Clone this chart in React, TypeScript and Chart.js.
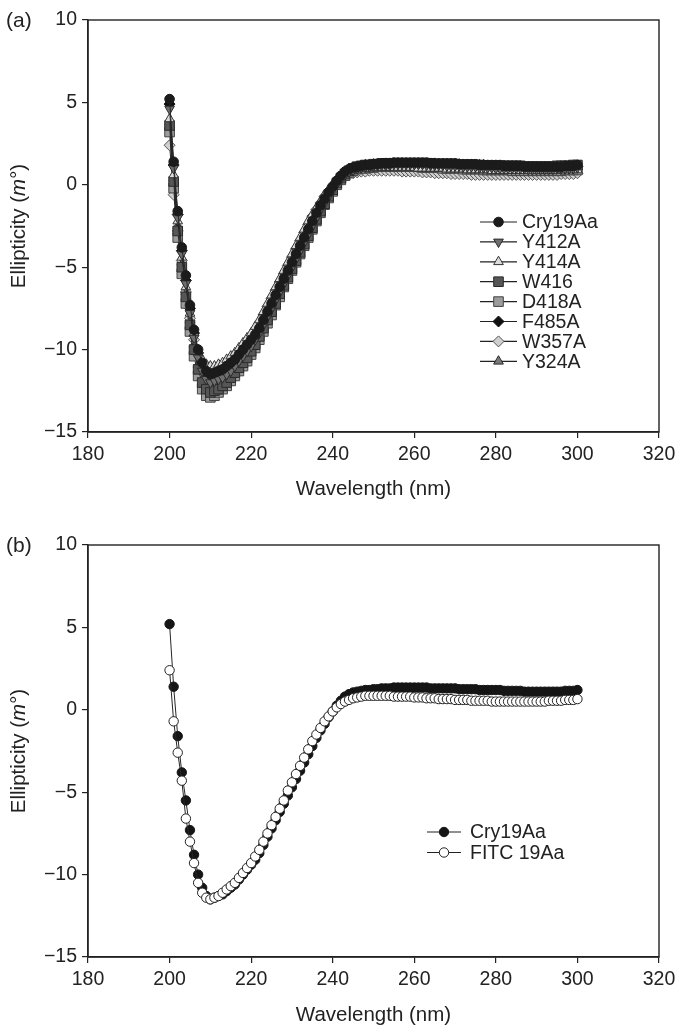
import React, { useEffect, useRef } from 'react';
import { Chart, registerables } from 'chart.js';
import { drawPoint } from 'chart.js/helpers';

Chart.register(...registerables);

const FONT = '"Liberation Sans", Arial, Helvetica, sans-serif';
const INK = '#222';

const X_TICKS = [180, 200, 220, 240, 260, 280, 300, 320];
const Y_TICKS = [-15, -10, -5, 0, 5, 10];

const WAVELENGTH = [
  200, 201, 202, 203, 204, 205, 206, 207, 208, 209,
  210, 211, 212, 213, 214, 215, 216, 217, 218, 219,
  220, 221, 222, 223, 224, 225, 226, 227, 228, 229,
  230, 231, 232, 233, 234, 235, 236, 237, 238, 239,
  240, 241, 242, 243, 244, 245, 246, 247, 248, 249,
  250, 251, 252, 253, 254, 255, 256, 257, 258, 259,
  260, 261, 262, 263, 264, 265, 266, 267, 268, 269,
  270, 271, 272, 273, 274, 275, 276, 277, 278, 279,
  280, 281, 282, 283, 284, 285, 286, 287, 288, 289,
  290, 291, 292, 293, 294, 295, 296, 297, 298, 299,
  300,
];

const CRY19AA = [
  5.2, 1.4, -1.6, -3.8, -5.5, -7.3, -8.8, -10.0, -10.8, -11.3,
  -11.5, -11.4, -11.3, -11.2, -11.0, -10.8, -10.6, -10.3, -10.0, -9.7,
  -9.4, -9.1, -8.7, -8.2, -7.7, -7.2, -6.7, -6.2, -5.7, -5.2,
  -4.7, -4.2, -3.7, -3.2, -2.7, -2.2, -1.7, -1.25, -0.85, -0.45,
  -0.1, 0.25, 0.55, 0.8, 0.95, 1.05, 1.1, 1.15, 1.2, 1.2,
  1.25, 1.25, 1.3, 1.3, 1.3, 1.35, 1.35, 1.35, 1.35, 1.35,
  1.35, 1.35, 1.35, 1.35, 1.3, 1.3, 1.3, 1.3, 1.3, 1.3,
  1.3, 1.25, 1.25, 1.25, 1.25, 1.25, 1.2, 1.2, 1.2, 1.2,
  1.2, 1.2, 1.15, 1.15, 1.15, 1.15, 1.15, 1.1, 1.1, 1.1,
  1.1, 1.1, 1.1, 1.1, 1.1, 1.1, 1.1, 1.15, 1.15, 1.15,
  1.2,
];

const Y412A = [
  4.6, 1.0, -2.0, -4.2, -6.0, -7.8, -9.3, -10.5, -11.3, -11.8,
  -12.0, -11.9, -11.8, -11.7, -11.5, -11.3, -11.0, -10.7, -10.4, -10.1,
  -9.8, -9.4, -9.0, -8.5, -8.0, -7.5, -7.0, -6.5, -6.0, -5.5,
  -5.0, -4.5, -4.0, -3.5, -3.0, -2.5, -2.0, -1.5, -1.1, -0.7,
  -0.3, 0.05, 0.35, 0.6, 0.8, 0.9, 1.0, 1.05, 1.1, 1.1,
  1.15, 1.2, 1.2, 1.2, 1.2, 1.25, 1.25, 1.25, 1.25, 1.25,
  1.25, 1.25, 1.25, 1.2, 1.2, 1.2, 1.2, 1.2, 1.15, 1.15,
  1.15, 1.15, 1.1, 1.1, 1.1, 1.1, 1.05, 1.05, 1.05, 1.05,
  1.0, 1.0, 1.0, 1.0, 1.0, 1.0, 1.0, 1.0, 0.95, 0.95,
  0.95, 0.95, 0.95, 0.95, 0.95, 1.0, 1.0, 1.0, 1.0, 1.0,
  1.05,
];

const Y414A = [
  4.0, 0.6, -2.2, -4.4, -6.2, -7.8, -9.0, -10.0, -10.6, -10.9,
  -11.0, -11.0, -10.9, -10.8, -10.6, -10.4, -10.2, -9.9, -9.6, -9.3,
  -9.0, -8.6, -8.2, -7.7, -7.2, -6.7, -6.2, -5.7, -5.2, -4.7,
  -4.2, -3.7, -3.2, -2.7, -2.2, -1.8, -1.4, -1.0, -0.6, -0.3,
  0.0, 0.25, 0.5, 0.7, 0.8, 0.9, 0.95, 1.0, 1.0, 1.0,
  1.05, 1.05, 1.05, 1.05, 1.05, 1.05, 1.05, 1.05, 1.05, 1.05,
  1.05, 1.0, 1.0, 1.0, 1.0, 1.0, 1.0, 1.0, 0.95, 0.95,
  0.95, 0.95, 0.95, 0.9, 0.9, 0.9, 0.9, 0.9, 0.9, 0.85,
  0.85, 0.85, 0.85, 0.85, 0.85, 0.85, 0.85, 0.85, 0.85, 0.85,
  0.85, 0.85, 0.85, 0.85, 0.85, 0.85, 0.9, 0.9, 0.9, 0.9,
  0.9,
];

const W416 = [
  3.6, 0.2, -2.8, -5.0, -6.8, -8.5, -10.0, -11.2, -12.0, -12.4,
  -12.6, -12.5, -12.4, -12.2, -12.0, -11.7, -11.4, -11.1, -10.8, -10.5,
  -10.1, -9.7, -9.2, -8.7, -8.2, -7.7, -7.2, -6.6, -6.1, -5.6,
  -5.1, -4.6, -4.1, -3.6, -3.1, -2.6, -2.1, -1.6, -1.15, -0.7,
  -0.3, 0.1, 0.4, 0.65, 0.85, 1.0, 1.1, 1.15, 1.2, 1.2,
  1.25, 1.25, 1.3, 1.3, 1.3, 1.3, 1.3, 1.3, 1.3, 1.3,
  1.3, 1.3, 1.3, 1.3, 1.3, 1.25, 1.25, 1.25, 1.25, 1.25,
  1.25, 1.2, 1.2, 1.2, 1.2, 1.2, 1.2, 1.15, 1.15, 1.15,
  1.15, 1.15, 1.15, 1.15, 1.15, 1.15, 1.15, 1.1, 1.1, 1.1,
  1.1, 1.1, 1.1, 1.1, 1.1, 1.15, 1.15, 1.15, 1.15, 1.2,
  1.2,
];

const D418A = [
  3.2, -0.2, -3.2, -5.4, -7.2, -8.9, -10.4, -11.6, -12.4, -12.8,
  -12.9, -12.8, -12.6, -12.4, -12.2, -11.9, -11.6, -11.3, -11.0, -10.7,
  -10.3, -9.9, -9.4, -8.9, -8.4, -7.9, -7.3, -6.8, -6.2, -5.7,
  -5.2, -4.7, -4.2, -3.7, -3.2, -2.7, -2.2, -1.7, -1.2, -0.8,
  -0.4, 0.0, 0.3, 0.55, 0.75, 0.85, 0.95, 1.0, 1.0, 1.05,
  1.05, 1.1, 1.1, 1.1, 1.1, 1.1, 1.1, 1.1, 1.1, 1.1,
  1.1, 1.1, 1.05, 1.05, 1.05, 1.05, 1.05, 1.0, 1.0, 1.0,
  1.0, 1.0, 0.95, 0.95, 0.95, 0.95, 0.95, 0.9, 0.9, 0.9,
  0.9, 0.9, 0.9, 0.9, 0.85, 0.85, 0.85, 0.85, 0.85, 0.85,
  0.85, 0.85, 0.85, 0.85, 0.85, 0.85, 0.85, 0.9, 0.9, 0.9,
  0.9,
];

const F485A = [
  4.9, 1.2, -1.8, -4.0, -5.8, -7.5, -9.0, -10.2, -11.0, -11.5,
  -11.7, -11.6, -11.5, -11.4, -11.2, -11.0, -10.8, -10.5, -10.2, -9.9,
  -9.6, -9.2, -8.8, -8.3, -7.8, -7.3, -6.8, -6.3, -5.8, -5.3,
  -4.8, -4.3, -3.8, -3.3, -2.8, -2.3, -1.8, -1.35, -0.9, -0.5,
  -0.15, 0.2, 0.5, 0.75, 0.9, 1.0, 1.1, 1.15, 1.2, 1.2,
  1.25, 1.25, 1.25, 1.3, 1.3, 1.3, 1.3, 1.3, 1.3, 1.3,
  1.3, 1.3, 1.3, 1.3, 1.3, 1.3, 1.25, 1.25, 1.25, 1.25,
  1.25, 1.25, 1.2, 1.2, 1.2, 1.2, 1.2, 1.2, 1.15, 1.15,
  1.15, 1.15, 1.15, 1.1, 1.1, 1.1, 1.1, 1.1, 1.1, 1.1,
  1.1, 1.05, 1.05, 1.05, 1.05, 1.05, 1.1, 1.1, 1.1, 1.1,
  1.1,
];

const W357A = [
  2.4, -0.6, -2.8, -4.6, -6.5, -8.1, -9.4, -10.4, -11.0, -11.3,
  -11.4, -11.3, -11.2, -11.0, -10.8, -10.6, -10.4, -10.1, -9.8, -9.5,
  -9.2, -8.8, -8.4, -7.9, -7.4, -6.9, -6.4, -5.9, -5.4, -4.9,
  -4.4, -3.9, -3.4, -2.9, -2.4, -1.9, -1.5, -1.1, -0.7, -0.4,
  -0.1, 0.15, 0.35, 0.5, 0.6, 0.7, 0.75, 0.8, 0.8, 0.85,
  0.85, 0.85, 0.85, 0.85, 0.85, 0.85, 0.85, 0.8, 0.8, 0.8,
  0.8, 0.8, 0.75, 0.75, 0.75, 0.7, 0.7, 0.7, 0.7, 0.65,
  0.65, 0.65, 0.65, 0.65, 0.6, 0.6, 0.6, 0.6, 0.6, 0.6,
  0.6, 0.6, 0.6, 0.6, 0.6, 0.6, 0.6, 0.6, 0.6, 0.6,
  0.6, 0.6, 0.6, 0.6, 0.6, 0.6, 0.65, 0.65, 0.65, 0.65,
  0.7,
];

const Y324A = [
  3.8, 0.4, -2.5, -4.7, -6.5, -8.2, -9.7, -10.9, -11.7, -12.1,
  -12.3, -12.2, -12.1, -11.9, -11.7, -11.4, -11.1, -10.8, -10.5, -10.2,
  -9.9, -9.5, -9.1, -8.6, -8.1, -7.6, -7.1, -6.6, -6.1, -5.6,
  -5.1, -4.6, -4.1, -3.6, -3.1, -2.6, -2.1, -1.6, -1.15, -0.75,
  -0.35, 0.05, 0.35, 0.6, 0.8, 0.95, 1.05, 1.1, 1.15, 1.15,
  1.2, 1.2, 1.25, 1.25, 1.25, 1.25, 1.25, 1.25, 1.25, 1.25,
  1.25, 1.25, 1.25, 1.2, 1.2, 1.2, 1.2, 1.2, 1.2, 1.15,
  1.15, 1.15, 1.15, 1.15, 1.1, 1.1, 1.1, 1.1, 1.1, 1.05,
  1.05, 1.05, 1.05, 1.05, 1.05, 1.0, 1.0, 1.0, 1.0, 1.0,
  1.0, 1.0, 1.0, 1.0, 1.0, 1.0, 1.05, 1.05, 1.05, 1.05,
  1.1,
];

const FITC19AA = [
  2.4, -0.7, -2.6, -4.3, -6.6, -8.0, -9.3, -10.5, -11.1, -11.4,
  -11.5, -11.4, -11.3, -11.1, -10.9, -10.7, -10.5, -10.2, -9.9, -9.6,
  -9.3, -8.9, -8.5, -8.0, -7.5, -7.0, -6.5, -6.0, -5.5, -4.9,
  -4.4, -3.9, -3.4, -2.9, -2.4, -1.9, -1.5, -1.1, -0.7, -0.4,
  -0.1, 0.15, 0.35, 0.5, 0.6, 0.7, 0.75, 0.8, 0.85, 0.85,
  0.85, 0.85, 0.85, 0.85, 0.85, 0.8, 0.8, 0.8, 0.8, 0.8,
  0.75, 0.75, 0.75, 0.7, 0.7, 0.7, 0.65, 0.65, 0.65, 0.65,
  0.6, 0.6, 0.6, 0.6, 0.55, 0.55, 0.55, 0.55, 0.55, 0.5,
  0.5, 0.5, 0.5, 0.5, 0.5, 0.5, 0.5, 0.5, 0.5, 0.5,
  0.5, 0.5, 0.5, 0.55, 0.55, 0.55, 0.55, 0.6, 0.6, 0.6,
  0.65,
];

type Series = {
  label: string;
  values: number[];
  style: string;
  rotation?: number;
  radius: number;
  fill: string;
  border: string;
};

const PANEL_A: Series[] = [
  { label: 'Cry19Aa', values: CRY19AA, style: 'circle', radius: 4.8, fill: '#1b1b1b', border: '#1b1b1b' },
  { label: 'Y412A', values: Y412A, style: 'triangle', rotation: 180, radius: 5.6, fill: '#6e6e6e', border: '#2a2a2a' },
  { label: 'Y414A', values: Y414A, style: 'triangle', radius: 5.6, fill: '#dcdcdc', border: '#333' },
  { label: 'W416', values: W416, style: 'rect', radius: 6.8, fill: '#565656', border: '#2a2a2a' },
  { label: 'D418A', values: D418A, style: 'rect', radius: 6.8, fill: '#9c9c9c', border: '#444' },
  { label: 'F485A', values: F485A, style: 'rectRot', radius: 5.5, fill: '#111', border: '#111' },
  { label: 'W357A', values: W357A, style: 'rectRot', radius: 5.5, fill: '#cfcfcf', border: '#555' },
  { label: 'Y324A', values: Y324A, style: 'triangle', radius: 5.6, fill: '#7a7a7a', border: '#2a2a2a' },
];

const PANEL_B: Series[] = [
  { label: 'Cry19Aa', values: CRY19AA, style: 'circle', radius: 4.7, fill: '#151515', border: '#151515' },
  { label: 'FITC 19Aa', values: FITC19AA, style: 'circle', radius: 4.7, fill: '#ffffff', border: '#222' },
];

type PanelCfg = {
  tag: string;
  series: Series[];
  plotTop: number;
  plotBottom: number;
  legendX0: number;
  legendX1: number;
  legendTextX: number;
  legendY: number;
  legendStep: number;
  xTitleY: number;
  topOrder: boolean;
};

const W = 686;
const H = 518;
const PLOT_LEFT = 88;
const PLOT_RIGHT = 659;

function minus(v: number) {
  return v < 0 ? '\u2212' + Math.abs(v) : String(v);
}

function makeDeco(cfg: PanelCfg) {
  return {
    id: 'deco' + cfg.tag,
    afterDraw(chart: any) {
      const ctx = chart.ctx as CanvasRenderingContext2D;
      const a = chart.chartArea;
      ctx.save();
      // frame
      ctx.strokeStyle = INK;
      ctx.lineWidth = 1.4;
      ctx.strokeRect(a.left, a.top, a.right - a.left, a.bottom - a.top);

      // panel tag
      ctx.fillStyle = INK;
      ctx.font = `21px ${FONT}`;
      ctx.textBaseline = 'middle';
      ctx.textAlign = 'left';
      ctx.fillText(cfg.tag, 6, a.top + 1);

      // x title
      ctx.font = `20.5px ${FONT}`;
      ctx.textAlign = 'center';
      ctx.fillText('Wavelength (nm)', (a.left + a.right) / 2, cfg.xTitleY);

      // y title with italic m
      const parts: [string, string][] = [
        ['Ellipticity (', `20.5px ${FONT}`],
        ['m', `italic 20.5px ${FONT}`],
        ['\u00b0)', `20.5px ${FONT}`],
      ];
      let total = 0;
      const widths = parts.map(([t, f]) => {
        ctx.font = f;
        const w = ctx.measureText(t).width;
        total += w;
        return w;
      });
      ctx.translate(19, (a.top + a.bottom) / 2);
      ctx.rotate(-Math.PI / 2);
      ctx.textAlign = 'left';
      let x = -total / 2;
      parts.forEach(([t, f], i) => {
        ctx.font = f;
        ctx.fillText(t, x, 0);
        x += widths[i];
      });
      ctx.setTransform(1, 0, 0, 1, 0, 0);

      // legend
      cfg.series.forEach((s, i) => {
        const y = cfg.legendY + i * cfg.legendStep;
        ctx.beginPath();
        ctx.moveTo(cfg.legendX0, y);
        ctx.lineTo(cfg.legendX1, y);
        ctx.strokeStyle = INK;
        ctx.lineWidth = 1.2;
        ctx.stroke();
        ctx.fillStyle = s.fill;
        ctx.strokeStyle = s.border;
        ctx.lineWidth = 1;
        drawPoint(
          ctx,
          { pointStyle: s.style as any, rotation: s.rotation || 0, radius: s.radius, borderWidth: 1 } as any,
          (cfg.legendX0 + cfg.legendX1) / 2,
          y
        );
        ctx.fillStyle = INK;
        ctx.font = `19.5px ${FONT}`;
        ctx.textAlign = 'left';
        ctx.textBaseline = 'middle';
        ctx.fillText(s.label, cfg.legendTextX, y + 1);
      });
      ctx.restore();
    },
  };
}

function buildChart(canvas: HTMLCanvasElement, cfg: PanelCfg) {
  const datasets = cfg.series.map((s, i) => ({
    label: s.label,
    data: WAVELENGTH.map((w, k) => ({ x: w, y: s.values[k] })),
    borderColor: '#262626',
    borderWidth: 1,
    pointStyle: s.style as any,
    rotation: s.rotation || 0,
    pointRadius: s.radius,
    pointBackgroundColor: s.fill,
    pointBorderColor: s.border,
    pointBorderWidth: 1,
    showLine: true,
    fill: false,
    tension: 0,
    order: cfg.topOrder ? cfg.series.length - i : i,
  }));

  return new Chart(canvas, {
    type: 'scatter',
    data: { datasets },
    options: {
      responsive: false,
      animation: false,
      devicePixelRatio: 1,
      layout: {
        padding: { left: 0, top: cfg.plotTop, right: W - PLOT_RIGHT, bottom: 0 },
      },
      plugins: {
        legend: { display: false },
        tooltip: { enabled: false },
        title: { display: false },
      },
      scales: {
        x: {
          type: 'linear',
          min: 180,
          max: 320,
          afterFit: (s: any) => {
            s.height = H - cfg.plotBottom;
          },
          afterBuildTicks: (s: any) => {
            s.ticks = X_TICKS.map((v) => ({ value: v }));
          },
          ticks: {
            color: INK,
            font: { family: FONT, size: 19.5 },
            padding: 5,
            maxRotation: 0,
            autoSkip: false,
            callback: (v: any) => String(v),
          },
          grid: { drawOnChartArea: false, drawTicks: true, tickLength: 6, color: INK, lineWidth: 1.2 },
          border: { display: true, color: INK, width: 1.4 },
        },
        y: {
          type: 'linear',
          min: -15,
          max: 10,
          afterFit: (s: any) => {
            s.width = PLOT_LEFT;
          },
          afterBuildTicks: (s: any) => {
            s.ticks = Y_TICKS.map((v) => ({ value: v }));
          },
          ticks: {
            color: INK,
            font: { family: FONT, size: 19.5 },
            padding: 5,
            autoSkip: false,
            callback: (v: any) => minus(Number(v)),
          },
          grid: { drawOnChartArea: false, drawTicks: true, tickLength: 6, color: INK, lineWidth: 1.2 },
          border: { display: true, color: INK, width: 1.4 },
        },
      },
    },
    plugins: [makeDeco(cfg)],
  });
}

const CFG_A: PanelCfg = {
  tag: '(a)',
  series: PANEL_A,
  plotTop: 20,
  plotBottom: 432,
  legendX0: 480,
  legendX1: 517,
  legendTextX: 522,
  legendY: 222,
  legendStep: 19.9,
  xTitleY: 489,
  topOrder: false,
};

const CFG_B: PanelCfg = {
  tag: '(b)',
  series: PANEL_B,
  plotTop: 27,
  plotBottom: 439,
  legendX0: 427,
  legendX1: 461,
  legendTextX: 470,
  legendY: 314,
  legendStep: 20.5,
  xTitleY: 497,
  topOrder: true,
};

function Panel({ cfg, top }: { cfg: PanelCfg; top: number }) {
  const ref = useRef<HTMLCanvasElement | null>(null);
  useEffect(() => {
    if (!ref.current) return;
    const chart = buildChart(ref.current, cfg);
    return () => chart.destroy();
  }, [cfg]);
  return (
    <canvas
      ref={ref}
      width={W}
      height={H}
      style={{ position: 'absolute', left: 0, top, width: W, height: H, display: 'block' }}
    />
  );
}

export default function App() {
  useEffect(() => {
    document.body.style.margin = '0';
    document.body.style.background = '#fff';
  }, []);
  return (
    <div style={{ position: 'absolute', left: 0, top: 0, width: W, height: 1036, background: '#fff', overflow: 'hidden' }}>
      <Panel cfg={CFG_A} top={0} />
      <Panel cfg={CFG_B} top={518} />
    </div>
  );
}
